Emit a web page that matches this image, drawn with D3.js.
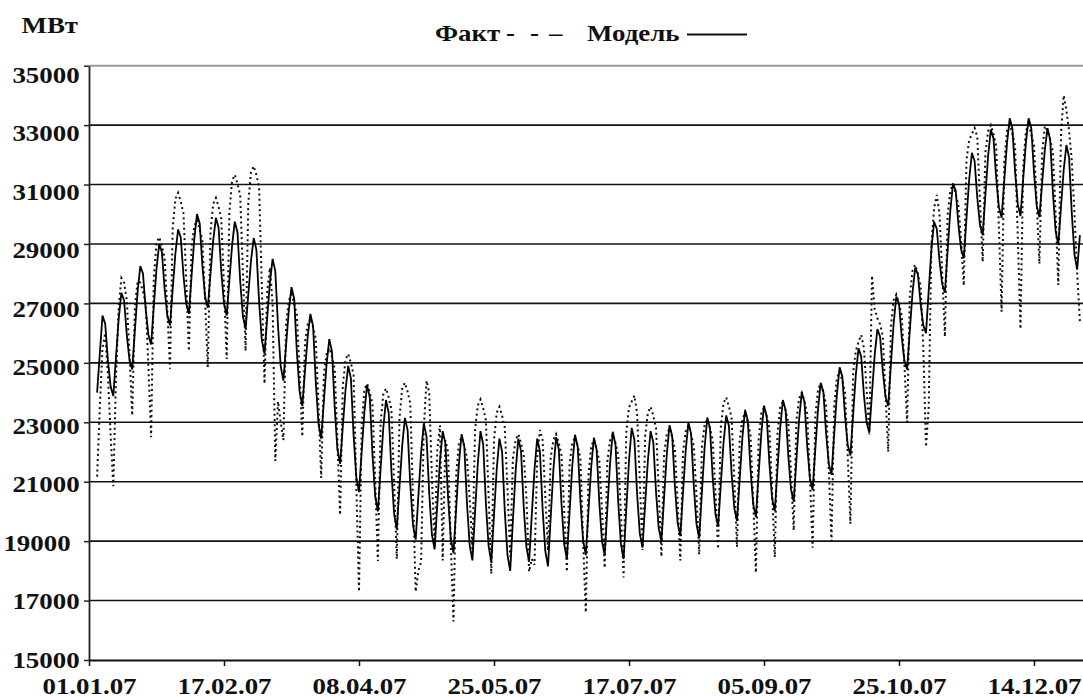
<!DOCTYPE html>
<html>
<head>
<meta charset="utf-8">
<script src="https://cdn.jsdelivr.net/npm/d3@7"></script>
<style>
  body { margin: 0; background: #fff; }
  svg { display: block; }
  text { font-family: "Liberation Serif", "Times New Roman", serif; font-weight: bold; fill: #111; }
</style>
</head>
<body>
<svg id="chart" width="1083" height="698"></svg>
<script>
// Daily load of the power system in 2007, MW (index 0 = 01.01.2007, Monday).
// Model values, one row per week (Mon..Sun).
const model = [
  24000, 25300, 26590, 26320, 25100, 24210, 23880,
  25200, 26490, 27360, 27100, 25940, 25090, 24780,
  26100, 27390, 28260, 28000, 26810, 25940, 25620,
  26900, 28160, 29000, 28730, 27490, 26590, 26260,
  27490, 28680, 29490, 29210, 27930, 26990, 26650,
  27930, 29170, 30010, 29690, 28270, 27230, 26850,
  28000, 29120, 29880, 29550, 28070, 26990, 26590,
  27790, 28960, 29750, 29390, 27760, 26570, 26140,
  27300, 28440, 29200, 28810, 27060, 25770, 25300,
  26520, 27700, 28500, 28090, 26250, 24890, 24400,
  25600, 26760, 27550, 27150, 25350, 24030, 23550,
  24730, 25880, 26650, 26230, 24340, 22950, 22450,
  23720, 24960, 25800, 25380, 23490, 22100, 21600,
  22850, 24080, 24900, 24480, 22560, 21160, 20650,
  22020, 23350, 24250, 23830, 21910, 20510, 20000,
  21430, 22810, 23750, 23320, 21360, 19920, 19400,
  20830, 22210, 23150, 22740, 20900, 19540, 19050,
  20530, 21980, 22950, 22530, 20620, 19230, 18720,
  20230, 21710, 22700, 22290, 20450, 19090, 18600,
  20120, 21600, 22600, 22180, 20260, 18860, 18350,
  20000, 21610, 22700, 22260, 20280, 18830, 18300,
  19880, 21410, 22450, 22010, 20000, 18530, 18000,
  19690, 21340, 22450, 22040, 20170, 18800, 18300,
  19880, 21410, 22450, 22020, 20090, 18670, 18150,
  19800, 21410, 22500, 22090, 20250, 18890, 18400,
  19990, 21540, 22580, 22180, 20350, 19020, 18530,
  20030, 21490, 22480, 22090, 20310, 19000, 18530,
  20110, 21640, 22680, 22250, 20330, 18910, 18400,
  20080, 21710, 22810, 22410, 20590, 19260, 18780,
  20270, 21720, 22700, 22330, 20670, 19440, 19000,
  20480, 21930, 22900, 22530, 20850, 19620, 19170,
  20630, 22040, 23000, 22610, 20860, 19570, 19100,
  20640, 22150, 23160, 22790, 21140, 19930, 19490,
  20910, 22300, 23230, 22880, 21280, 20110, 19680,
  21100, 22490, 23420, 23060, 21430, 20240, 19810,
  21240, 22620, 23560, 23200, 21610, 20440, 20010,
  21430, 22820, 23750, 23410, 21870, 20740, 20330,
  21730, 23090, 24010, 23680, 22200, 21120, 20720,
  22090, 23430, 24330, 24020, 22630, 21600, 21230,
  22610, 23950, 24850, 24550, 23220, 22240, 21880,
  23250, 24590, 25490, 25210, 23930, 22990, 22650,
  23980, 25270, 26140, 25880, 24720, 23860, 23550,
  24950, 26310, 27230, 26990, 25880, 25070, 24780,
  26080, 27350, 28200, 27980, 26990, 26260, 26000,
  27430, 28810, 29750, 29510, 28440, 27650, 27360,
  28760, 30120, 31040, 30790, 29650, 28820, 28520,
  29870, 31180, 32070, 31790, 30550, 29630, 29300,
  30650, 31960, 32850, 32550, 31220, 30240, 29880,
  31150, 32390, 33230, 32900, 31420, 30340, 29940,
  31190, 32410, 33230, 32900, 31400, 30300, 29900,
  31040, 32150, 32900, 32510, 30740, 29440, 28970,
  30250, 31490, 32330, 31910, 30030, 28640, 28140,
  29300
];

// Actual (measured) values, same layout.
const fact = [
  21170, 23500, 25500, 26000, 24600, 22600, 20850,
  24500, 26900, 27850, 27700, 27100, 25300, 23230,
  26900, 27750, 27700, 27400, 27000, 24860, 22500,
  27880, 29030, 29230, 28930, 28530, 26790, 24800,
  29540, 30520, 30720, 30420, 30020, 27790, 25400,
  28920, 29600, 29800, 29500, 29100, 27080, 24850,
  29410, 30350, 30550, 30250, 29850, 27570, 25130,
  30090, 31130, 31330, 31030, 30630, 28070, 25400,
  30380, 31420, 31620, 31320, 30920, 27590, 24300,
  27420, 28200, 27000, 21700, 23700, 23000, 22400,
  26320, 27100, 27300, 27000, 26600, 24670, 22520,
  25700, 26300, 26500, 26200, 25800, 23550, 21130,
  24630, 25300, 25500, 25200, 24800, 22410, 19880,
  24220, 25100, 25300, 25000, 24600, 20900, 17300,
  22900, 24100, 24300, 24000, 23600, 21010, 18330,
  22980, 23940, 24140, 23840, 23440, 20980, 18400,
  23140, 24130, 24330, 24030, 23630, 20460, 17300,
  18000, 18300, 22800, 24400, 24000, 21140, 18800,
  22080, 22900, 18350, 22400, 22000, 18870, 16300,
  21260, 22300, 22500, 22200, 21800, 20430, 18740,
  22760, 23570, 23770, 23470, 23070, 20540, 17900,
  22400, 23320, 23520, 23220, 22820, 20750, 18480,
  21780, 22400, 22600, 22300, 21900, 20500, 17970,
  18400, 18200, 21800, 22740, 22400, 20510, 18680,
  21820, 22400, 22600, 22300, 21900, 20040, 17970,
  21590, 22300, 22500, 22200, 21800, 19000, 16600,
  21240, 22200, 22400, 22100, 21700, 20040, 18100,
  21700, 22400, 22600, 22300, 21900, 19950, 17780,
  22680, 23500, 23700, 23900, 23300, 21040, 18700,
  22560, 23320, 23520, 23220, 22820, 20750, 18480,
  21940, 22600, 22800, 22500, 22100, 20350, 18350,
  21990, 22700, 22900, 22600, 22200, 20510, 18550,
  22190, 22900, 23100, 22800, 22400, 20700, 18740,
  22820, 23640, 23840, 23540, 23140, 21070, 18800,
  22400, 23100, 23300, 23000, 22600, 20350, 17940,
  22390, 23300, 23500, 23200, 22800, 20730, 18460,
  22650, 23500, 23700, 23400, 23000, 21310, 19360,
  23070, 23800, 24000, 23700, 23300, 21130, 18780,
  23200, 24100, 24300, 24000, 23600, 21390, 19000,
  23560, 24500, 24700, 24400, 24000, 21880, 19580,
  24670, 25400, 25700, 25940, 25500, 24100, 22590,
  27940, 26800, 26500, 26300, 25900, 23950, 22010,
  26240, 27100, 27300, 27000, 26600, 24940, 23000,
  27240, 28100, 28300, 28000, 27600, 25500, 22170,
  23500, 29000, 30200, 30650, 30000, 28030, 25880,
  29980, 30800, 31000, 30700, 30300, 29130, 27600,
  31840, 32500, 32700, 32900, 32600, 30430, 28400,
  32080, 32800, 33000, 32700, 32300, 29550, 26720,
  31740, 32800, 33000, 32700, 32300, 29230, 26140,
  31630, 32800, 33000, 32700, 32300, 30430, 28330,
  32040, 32970, 32800, 32500, 32100, 30030, 27620,
  32720, 34000, 33500, 32800, 31800, 30000, 28000,
  26400
];

const yTicks = [15000, 17000, 19000, 21000, 23000, 25000, 27000, 29000, 31000, 33000, 35000];
const xTickDays = [-3, 47, 97, 147, 197, 247, 297, 347];
const xTickLabels = ["01.01.07", "17.02.07", "08.04.07", "25.05.07", "17.07.07", "05.09.07", "25.10.07", "14.12.07"];

const W = 1083;
const plot = { left: 89, top: 65.7, bottom: 660, right: 1082.6 };
const FONT = 23, STRETCH = 1.17;

const svg = d3.select("#chart");

const x = d3.scaleLinear().domain([-3, 365]).range([plot.left, plot.right]);
const y = d3.scaleLinear().domain([15000, 35000]).range([plot.bottom, plot.top]);

// horizontal grid
svg.append("g").selectAll("line")
  .data(yTicks.filter(v => v > 15000))
  .join("line")
  .attr("x1", plot.left).attr("x2", W)
  .attr("y1", d => y(d)).attr("y2", d => y(d))
  .attr("stroke", d => d === 35000 ? "#9a9a9a" : "#111")
  .attr("stroke-width", d => d === 35000 ? 2 : 1.6);

// y axis; labels sit slightly lower toward the top of the scale
const gy = svg.append("g").attr("transform", `translate(${plot.left},0)`)
  .call(d3.axisLeft(y).tickValues(yTicks).tickFormat(d3.format("d"))
    .tickSize(5).tickSizeOuter(0).tickPadding(3));
gy.select(".domain").attr("stroke", "#222").attr("stroke-width", 1.8);
gy.selectAll(".tick line").attr("stroke", "#222").attr("stroke-width", 1.5);
gy.selectAll(".tick text")
  .attr("font-size", FONT).attr("font-family", null)
  .attr("transform", d => `translate(${d === 19000 ? -9 : 0},${(d - 15000) / 1000 * 0.45}) scale(${STRETCH},1)`)
  .attr("fill", "#111");

// x axis
const gx = svg.append("g").attr("transform", `translate(0,${plot.bottom})`)
  .call(d3.axisBottom(x).tickValues(xTickDays).tickFormat((d, i) => xTickLabels[i])
    .tickSize(6).tickSizeOuter(0).tickPadding(12));
gx.select(".domain").attr("stroke", "#111").attr("stroke-width", 1.8);
gx.selectAll(".tick line").attr("stroke", "#111").attr("stroke-width", 1.5);
gx.selectAll(".tick text")
  .attr("font-size", FONT).attr("font-family", null)
  .attr("transform", `scale(${STRETCH},1)`).attr("fill", "#111");

// series
const line = d3.line().x((d, i) => x(i)).y(d => y(d));

svg.append("path").datum(fact)
  .attr("d", line).attr("fill", "none")
  .attr("stroke", "#111").attr("stroke-width", 2)
  .attr("stroke-dasharray", "2,3.2");

svg.append("path").datum(model)
  .attr("d", line).attr("fill", "none")
  .attr("stroke", "#000").attr("stroke-width", 1.8)
  .attr("stroke-linejoin", "miter");

// unit label
svg.append("text")
  .attr("transform", `translate(21.5,33) scale(${STRETCH},1)`)
  .attr("font-size", FONT).text("МВт");

// legend
const legend = svg.append("g");
const legendItems = [
  { x: 435, t: "Факт" },
  { x: 506, t: "-" },
  { x: 530, t: "-" },
  { x: 549, t: "–" },
  { x: 587, t: "Модель" }
];
legend.selectAll("text").data(legendItems).join("text")
  .attr("transform", d => `translate(${d.x},41) scale(${STRETCH},1)`)
  .attr("font-size", FONT).text(d => d.t);
legend.append("line")
  .attr("x1", 687).attr("x2", 747).attr("y1", 34.5).attr("y2", 34.5)
  .attr("stroke", "#111").attr("stroke-width", 1.8);
</script>
</body>
</html>
